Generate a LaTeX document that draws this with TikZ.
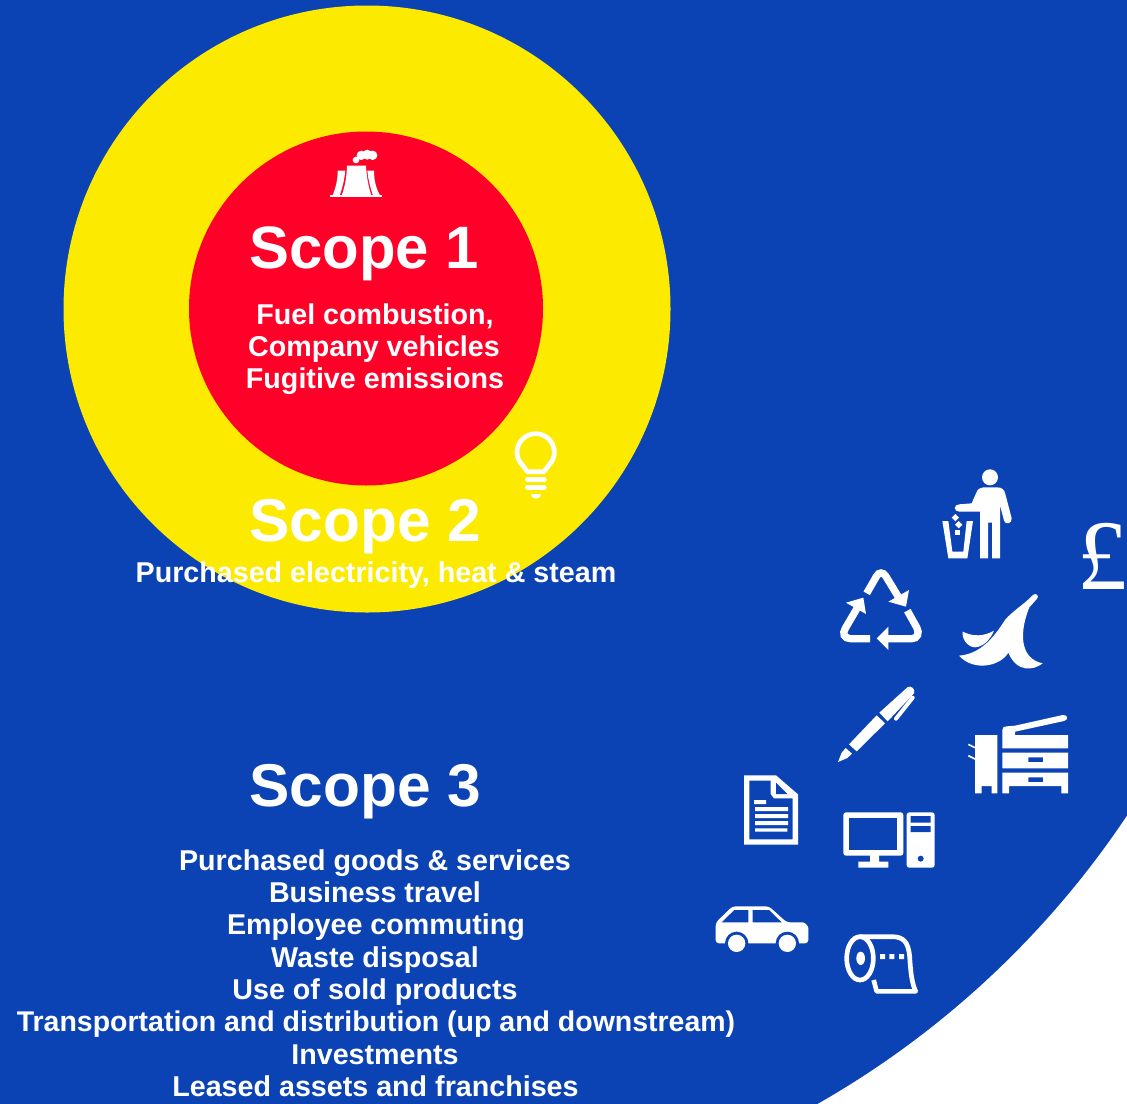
\documentclass[tikz,border=0pt]{standalone}
\usepackage{fontspec}
\setmainfont{Liberation Sans}
\newfontfamily\poundfont{Liberation Serif}
\definecolor{bluebg}{HTML}{0B43B5}
\definecolor{yellowring}{HTML}{FCEA00}
\definecolor{redcore}{HTML}{FF0029}
\tikzset{
  bigtext/.style={text=white,font=\bfseries\fontsize{45.3pt}{50pt}\selectfont,anchor=base,inner sep=0pt},
  smalltext/.style={text=white,font=\bfseries\fontsize{21.5pt}{24pt}\selectfont,anchor=base,inner sep=0pt},
  icline/.style={draw=white,fill=none},
  zoomed/.style={x=0.25pt,y=-0.25pt}
}
\begin{document}
\begin{tikzpicture}[x=0.75pt,y=-0.75pt]
\useasboundingbox (0,0) rectangle (1127,1103);
\fill[white] (0,0) rectangle (1127,1103);
\begin{scope}
\clip (0,0) rectangle (1127,1103);
\fill[bluebg] (366,309) circle [radius=914];
\end{scope}
\fill[yellowring] (367,309) circle [radius=303.5];
\fill[redcore] (366,308.5) circle [radius=177];

\node[bigtext,font=\bfseries\fontsize{44.9pt}{50pt}\selectfont] (scopeone) at (364,268) {Scope 1};
\node[smalltext] (s1a) at (375,324) {Fuel combustion,};
\node[smalltext] (s1b) at (374,356) {Company vehicles};
\node[smalltext] (s1c) at (375,388) {Fugitive emissions};
\node[bigtext] (scopetwo) at (365.5,541) {Scope 2};
\node[smalltext] (s2a) at (376,582) {Purchased electricity, heat \& steam};
\node[bigtext] (scopethree) at (365.5,806) {Scope 3};
\node[smalltext] (s3a) at (375,870) {Purchased goods \& services};
\node[smalltext] (s3b) at (375,902) {Business travel};
\node[smalltext] (s3c) at (376,934) {Employee commuting};
\node[smalltext] (s3d) at (375,967) {Waste disposal};
\node[smalltext] (s3e) at (375,999) {Use of sold products};
\node[smalltext,font=\bfseries\fontsize{21.36pt}{24pt}\selectfont] (s3f) at (376,1031) {Transportation and distribution (up and downstream)};
\node[smalltext] (s3g) at (375,1064) {Investments};
\node[smalltext] (s3h) at (375.5,1096) {Leased assets and franchises};
\node[text=white,font=\poundfont\fontsize{75pt}{80pt}\selectfont,anchor=base,inner sep=0pt] (pound) at (1102,589) {£};

% power station
\begin{scope}[shift={(300,130)},zoomed]
\fill[white] (90,194) rectangle (245,201);
\fill[white] (141,107) -- (198,107) .. controls (200,140) and (205,170) .. (214,196) -- (125,196) .. controls (135,170) and (140,140) .. (141,107) -- cycle;
\fill[white] (113,122) -- (136,122) .. controls (133,150) and (127,175) .. (119,196) -- (98,196) .. controls (108,170) and (113,150) .. (113,122) -- cycle;
\fill[white] (202,122) -- (222,122) .. controls (222,150) and (228,175) .. (240,196) -- (219,196) .. controls (210,170) and (205,150) .. (202,122) -- cycle;
\fill[white] (168,90) circle [radius=10] (184,76) circle [radius=14] (202,74) circle [radius=15] (218,76) circle [radius=14];
\end{scope}

% bulb
\begin{scope}[shift={(490,420)},zoomed]
\draw[icline,line width=3.5pt,line join=round] (112,155) -- (98,136) .. controls (87,125) and (81,112) .. (81,97) .. controls (81,66) and (106,41) .. (137,41) .. controls (168,41) and (193,66) .. (193,97) .. controls (193,112) and (187,125) .. (176,136) -- (162,155) -- cycle;
\draw[icline,line width=3.5pt,line cap=round] (112,179) -- (163,179);
\draw[icline,line width=3.5pt,line cap=round] (112,203) -- (163,203);
\fill[white] (123,222) -- (153,222) .. controls (150,232) and (145,236) .. (138,236) .. controls (131,236) and (126,232) .. (123,222) -- cycle;
\end{scope}

% top right icons
\begin{scope}[shift={(820,450)},zoomed]
\fill[white] (510,82) circle [radius=24];
\fill[white] (490,112) -- (530,112) .. controls (545,112) and (553,118) .. (556,132) -- (575,205) .. controls (577,222) and (555,225) .. (552,212) -- (540,165) -- (540,325) -- (516,325) -- (516,218) -- (504,218) -- (504,325) -- (480,325) -- (480,185) -- (418,185) .. controls (400,185) and (400,163) .. (418,163) -- (455,160) -- (468,130) .. controls (472,118) and (480,112) .. (490,112) -- cycle;
\fill[white] (367,213) -- (385,213) -- (397,305) -- (430,305) -- (440,213) -- (459,213) -- (442,325) -- (385,325) -- cycle;
\fill[white] (406,192) -- (417,203) -- (406,214) -- (395,203) -- cycle;
\fill[white] (416,213) -- (427,224) -- (416,235) -- (405,224) -- cycle;
\fill[white] (405,240) rectangle (421,256);
% recycle
\draw[icline,line width=5.5pt] (140,430) -- (170,378) .. controls (176,366) and (190,366) .. (197,378) -- (236,442);
\fill[white] (267,420) -- (258,470) -- (205,455) -- cycle;
\draw[icline,line width=5.5pt] (150,566) -- (92,566) .. controls (72,566) and (66,550) .. (76,535) -- (114,470);
\fill[white] (78,458) -- (130,443) -- (138,492) -- cycle;
\draw[icline,line width=5.5pt] (262,482) -- (290,532) .. controls (300,550) and (292,566) .. (275,566) -- (195,566);
\fill[white] (205,530) -- (205,600) -- (170,565) -- cycle;
% banana
\fill[white] (417,617) .. controls (480,612) and (520,565) .. (555,510) .. controls (575,485) and (610,465) .. (640,434) .. controls (648,428) and (658,438) .. (652,445) -- (628,472) .. controls (600,540) and (595,625) .. (668,640) .. controls (640,662) and (590,668) .. (565,608) .. controls (540,650) and (460,665) .. (417,617) -- cycle;
\fill[white] (428,545) .. controls (460,560) and (490,560) .. (522,542) .. controls (510,570) and (490,590) .. (465,592) .. controls (440,590) and (425,565) .. (428,545) -- cycle;
\end{scope}

% lower icons
\begin{scope}[shift={(700,680)},zoomed]
% pen
\fill[white] (414,246) -- (425,218) -- (437,204) -- (456,221) -- (442,234) -- cycle;
\fill[white] (447,193) -- (530,106) -- (555,130) -- (470,214) -- cycle;
\fill[white] (538,98) -- (622,22) .. controls (632,14) and (648,28) .. (642,40) -- (563,124) -- cycle;
\draw[icline,line width=3pt,line join=round,line cap=round] (638,53) -- (588,116);
% printer
\fill[white] (825,165) -- (892,165) -- (892,340) -- (875,340) -- (875,318) -- (845,318) -- (845,340) -- (825,340) -- cycle;
\draw[icline,line width=1.2pt] (805,193) -- (825,203) (805,227) -- (825,237);
\fill[white] (907,205) -- (907,150) .. controls (907,142) and (912,139) .. (920,139) -- (945,137) -- (1088,105) .. controls (1104,103) and (1106,120) .. (1092,123) -- (945,155) -- (945,165) -- (1104,165) -- (1104,205) -- cycle;
\fill[white,even odd rule] (907,218) rectangle (1104,265) (985,232) rectangle (1029,246);
\fill[white,even odd rule] (907,278) -- (1104,278) -- (1104,340) -- (1084,340) -- (1084,318) -- (927,318) -- (927,340) -- (907,340) -- cycle (985,292) rectangle (1029,306);
% document
\fill[white,even odd rule] (132,286) -- (228,286) -- (294,343) -- (294,494) -- (132,494) -- cycle (148,302) -- (212,302) -- (212,342) -- (222,355) -- (278,355) -- (278,478) -- (148,478) -- cycle;
\fill[bluebg] (228,308) -- (228,342) -- (262,342) -- cycle;
\fill[white] (162,360) rectangle (198,372) (165,381) rectangle (264,393) (165,402) rectangle (264,414) (165,423) rectangle (264,435) (165,445) rectangle (262,455);
% computer
\fill[white,rounded corners=2pt] (430,397) rectangle (610,527);
\fill[bluebg] (448,415) rectangle (592,510);
\fill[white] (510,525) rectangle (537,547) (475,545) rectangle (565,563);
\fill[white,rounded corners=2pt] (620,397) rectangle (704,563);
\fill[bluebg] (632,408) rectangle (692,428) (632,438) rectangle (692,456) (662,536) circle [radius=9];
% car
\fill[white,rounded corners=2.5pt] (47,790) -- (47,728) -- (97,679) -- (207,679) -- (260,727) -- (298,727) .. controls (315,727) and (325,738) .. (325,755) -- (325,790) -- cycle;
\fill[bluebg] (65,727) -- (103,690) -- (145,690) -- (145,727) -- cycle (158,690) -- (207,690) -- (245,727) -- (158,727) -- cycle;
\fill[bluebg] (110,790) circle [radius=35] (262,790) circle [radius=35];
\fill[white] (110,790) circle [radius=26] (262,790) circle [radius=26];
% roll
\draw[icline,line width=3.5pt,line join=round] (480,770) -- (575,770) .. controls (610,770) and (625,785) .. (629,830) .. controls (632,880) and (636,910) .. (647,934) -- (530,934) -- (521,900);
\draw[icline,line width=3.5pt] (480,835) ellipse [x radius=40, y radius=65];
\fill[white] (482,835) ellipse [x radius=13, y radius=20];
\fill[white] (540,822) rectangle (555,837) (568,822) rectangle (583,837) (597,822) rectangle (612,837);
\end{scope}
\end{tikzpicture}
\end{document}
